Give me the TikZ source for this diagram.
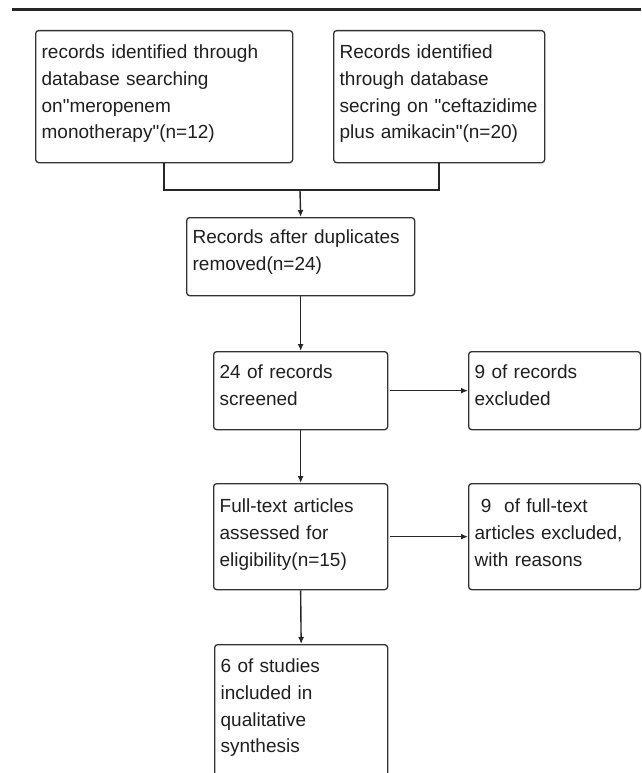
\documentclass[tikz,border=0pt]{standalone}
\usepackage{fontspec}
\setmainfont{Liberation Sans}
\usetikzlibrary{arrows.meta}
\tikzset{
	box/.style={draw=black!80,line width=1.3pt,rounded corners=3pt,
		inner xsep=6pt,inner ysep=0pt,text width=#1,align=left,
		anchor=north west,font=\fontsize{19}{26.7}\selectfont,text=black!88},
	arr/.style={line width=1.4pt,draw=black!85,-{Latex[length=7pt,width=6pt]}},
	link/.style={line width=1.4pt,draw=black!85},
	toprule/.style={line width=3pt,black!85}
}

\begin{document}
\begin{tikzpicture}[x=1pt,y=-1pt]
	
	\useasboundingbox (0,0) rectangle (641,773);
	\clip (0,0) rectangle (641,773);
	
	% -------------------------------------------------
	% 1. Rule on top
	% -------------------------------------------------
	\draw[toprule] (12,10) -- (641,10);
	
	% -------------------------------------------------
	% 2. Database searches
	% -------------------------------------------------
	\node[box=245pt,text height=28pt,text depth=104pt] (srchA) at (35,30)
	{records identified through\\ database searching\\ on\textquotedbl meropenem\\ monotherapy\textquotedbl(n=12)};
	\node[box=199pt,text height=28pt,text depth=104pt] (srchB) at (333,30)
	{Records identified\\ through database\\ secring~on~\textquotedbl ceftazidime\\ plus amikacin\textquotedbl(n=20)};
	
	% -------------------------------------------------
	% 3. Screening steps
	% -------------------------------------------------
	\node[box=216pt,text height=26pt,text depth=52pt] (dupl) at (186,217)
	{Records after duplicates\\ removed(n=24)};
	\node[box=162pt,text height=27pt,text depth=51pt] (scrn) at (213,351)
	{24 of records\\ screened};
	\node[box=160pt,text height=27pt,text depth=51pt] (excl) at (468,351)
	{9 of records\\ excluded};
	\node[box=162pt,text height=29pt,text depth=77pt] (full) at (213,483)
	{Full-text articles\\ assessed for\\ eligibility(n=15)};
	\node[box=160pt,text height=29pt,text depth=77pt] (fexcl) at (468,483)
	{\ 9\ \ of full-text\\ articles excluded,\\ with reasons};
	\node[box=161pt,text height=28pt,text depth=150pt] (incl) at (214,644)
	{6 of studies\\ included in\\ qualitative\\ synthesis};
	
	% -------------------------------------------------
	% 4. Connectors
	% -------------------------------------------------
	\coordinate (J) at (300,190);
	\draw[link] (srchA.south) |- (J) -| (srchB.south);
	\draw[arr] (J) -- (dupl.north);
	\draw[arr] (dupl.south) -- (scrn.north);
	\draw[arr] ([xshift=2pt]scrn.east) -- (excl.west);
	\draw[arr] (scrn.south) -- (full.north);
	\draw[arr] ([xshift=2pt]full.east) -- (fexcl.west);
	\draw[arr] (full.south) -- (incl.north);
	
\end{tikzpicture}
\end{document}
